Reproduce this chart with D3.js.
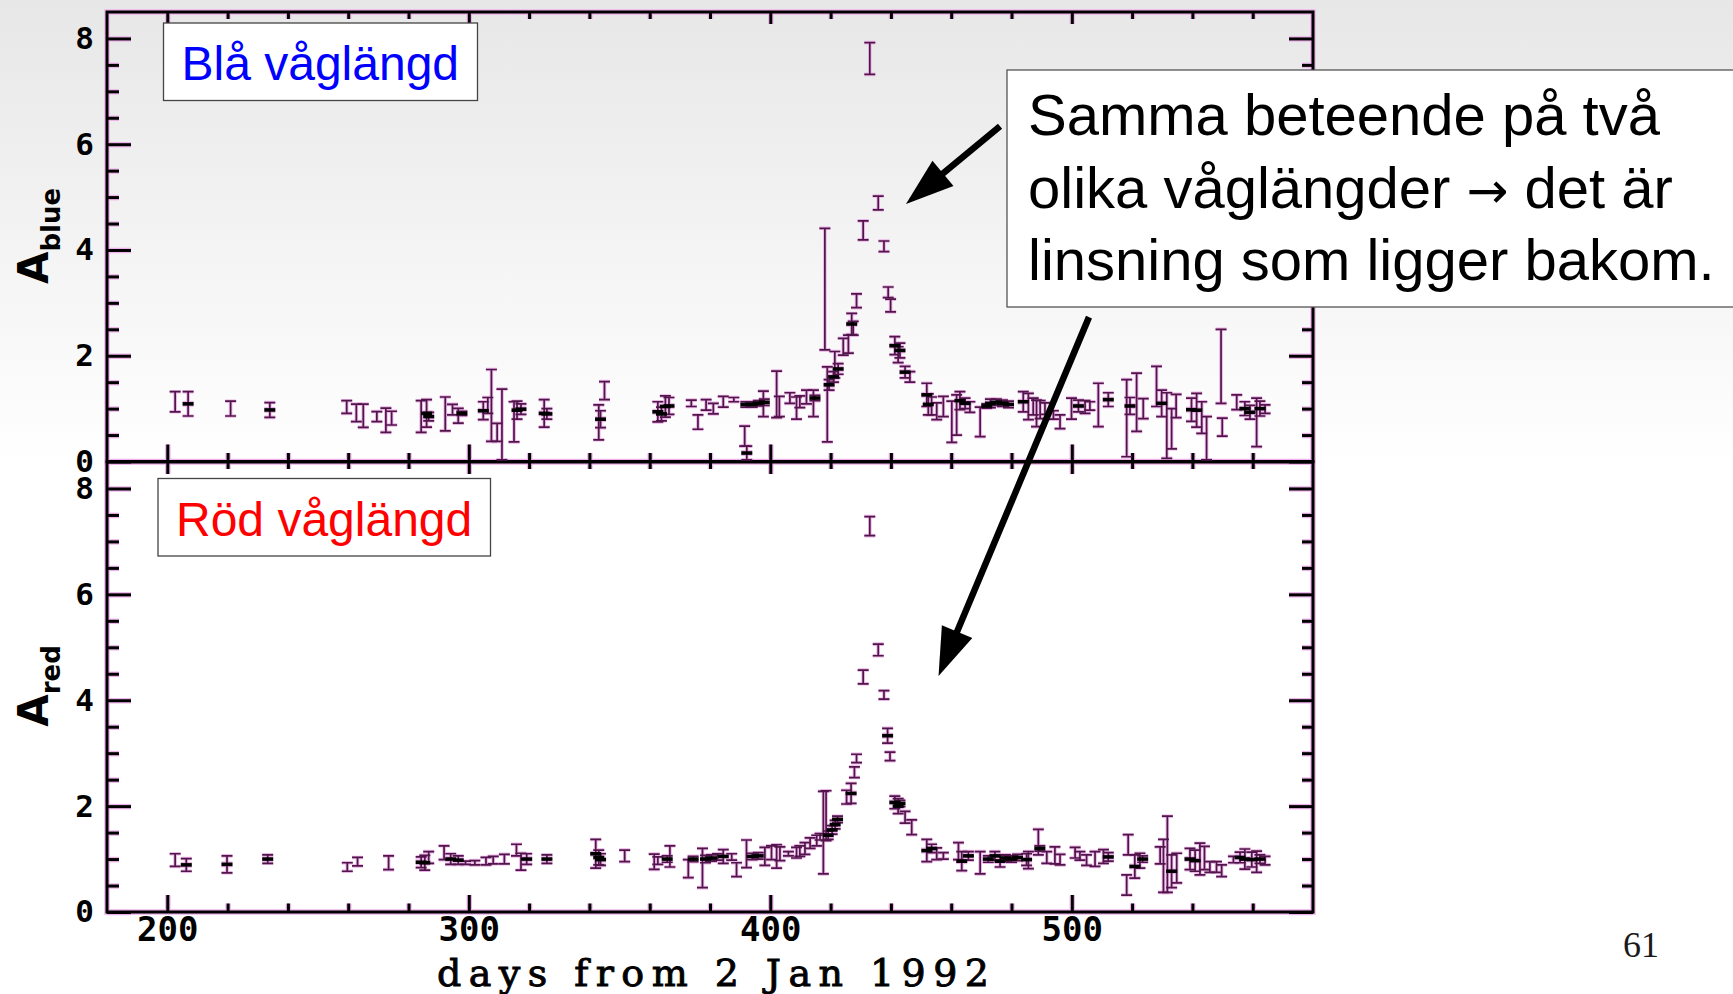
<!DOCTYPE html>
<html>
<head>
<meta charset="utf-8">
<script src="https://cdn.jsdelivr.net/npm/d3@7"></script>
<style>
  html, body { margin: 0; padding: 0; background: #fff; }
  svg { display: block; }
  .halo line, .halo path { stroke: #efb3ec; stroke-width: 5.5; fill: none; }
  .core line, .core path { stroke: #000; stroke-width: 3; fill: none; }
  .bars.halo path { stroke: #ebb4e8; stroke-width: 3.6; }
  .bars.core path { stroke: #511649; stroke-width: 1.7; }
  .marks.halo path { stroke: #ebb4e8; stroke-width: 6; }
  .marks.core path { stroke: #000; stroke-width: 3.6; }
  .ylab text { font: bold 31px "DejaVu Sans Mono"; fill: #000; }
  .xlab text { font: bold 34px "DejaVu Sans Mono"; fill: #000; }
</style>
</head>
<body>
<svg id="chart" width="1733" height="994"></svg>
<script>
// days from 2 Jan 1992, magnification A, error, bold marker flag
const blueData = [
  [202.6, 1.13, 0.19], [206.9, 1.09, 0.23, 1], [221, 1.0, 0.14], [234, 0.975, 0.14, 1],
  [259.5, 1.03, 0.12], [262.7, 0.92, 0.165], [265, 0.865, 0.22], [269.5, 0.85, 0.095],
  [272.5, 0.78, 0.23], [274.4, 0.82, 0.13], [284.2, 0.85, 0.3], [286, 0.91, 0.26, 1],
  [286.7, 0.85, 0.08, 1], [292.2, 0.9, 0.32], [294.6, 0.98, 0.1], [296.5, 0.865, 0.14],
  [297.7, 0.91, 0.04, 1], [304.8, 0.96, 0.17, 1], [306.3, 1.06, 0.15], [307.5, 1.06, 0.68],
  [309.4, 0.55, 0.17], [311, 0.7, 0.67], [315, 0.75, 0.38], [316, 0.97, 0.17, 1],
  [317.3, 0.99, 0.1, 1], [325, 0.91, 0.26, 1], [325.9, 0.9, 0.1, 1], [343.1, 0.74, 0.33],
  [343.7, 0.8, 0.16, 1], [345, 1.34, 0.17], [362.7, 0.94, 0.19, 1], [363.9, 0.9, 0.13, 1],
  [365.2, 1.04, 0.2, 1], [366.4, 1.05, 0.16, 1], [373.8, 1.1, 0.06], [376, 0.745, 0.135],
  [378.7, 1.07, 0.1], [381.1, 1.0, 0.1], [384.4, 1.13, 0.1], [387.9, 1.17, 0.04],
  [391.5, 0.48, 0.19], [392.2, 0.16, 0.13, 1], [391.9, 1.08, 0.05, 1], [394, 1.08, 0.05, 1],
  [396, 1.1, 0.05, 1], [397.7, 1.09, 0.24], [398, 1.12, 0.06, 1], [402.1, 1.27, 0.44],
  [403, 1.04, 0.19], [406.5, 1.2, 0.1], [408.7, 1.01, 0.21], [409.8, 1.13, 0.11],
  [412, 1.22, 0.13], [414.3, 1.1, 0.25], [414.8, 1.2, 0.05, 1], [418.1, 3.26, 1.15],
  [418.9, 1.08, 0.71], [419.5, 1.45, 0.1, 1], [421, 1.6, 0.1, 1], [421.4, 1.83, 0.25],
  [422.5, 1.75, 0.1, 1], [424.2, 2.17, 0.16], [425.9, 2.22, 0.17], [427, 2.6, 0.2, 1],
  [427.5, 2.52, 0.13], [428.6, 3.04, 0.13], [430.8, 4.37, 0.18], [433, 7.62, 0.3],
  [435.8, 4.89, 0.13], [437.7, 4.07, 0.1], [439.1, 3.2, 0.1], [439.9, 2.95, 0.12],
  [441.3, 2.19, 0.17, 1], [442.4, 2.02, 0.15], [443, 2.1, 0.14, 1], [444.7, 1.69, 0.11, 1],
  [446.3, 1.6, 0.1], [451.9, 1.26, 0.22, 1], [452.4, 1.08, 0.2, 1], [453.5, 1.05, 0.17],
  [455.2, 0.95, 0.16], [457.4, 1.04, 0.19], [460.2, 0.75, 0.39], [461.8, 0.88, 0.38],
  [462.9, 1.15, 0.17, 1], [464.6, 1.1, 0.1, 1], [466.2, 1.03, 0.1], [469.6, 0.75, 0.28],
  [471.8, 1.05, 0.04, 1], [473, 1.1, 0.08, 1], [475, 1.12, 0.06, 1], [477, 1.1, 0.06, 1],
  [479, 1.08, 0.06, 1], [483.9, 1.13, 0.19, 1], [485.6, 1.04, 0.25], [487.2, 1.04, 0.16],
  [488.3, 0.91, 0.25], [489.5, 0.98, 0.17], [491.1, 1.0, 0.11], [493.9, 0.88, 0.08],
  [496.1, 0.75, 0.13], [499.9, 1.0, 0.2], [502.2, 1.05, 0.11, 1], [504.4, 1.03, 0.12],
  [506, 1.05, 0.08], [508.8, 1.07, 0.41], [512.1, 1.17, 0.13, 1], [518.2, 0.82, 0.73],
  [519.3, 1.05, 0.16, 1], [521.5, 1.12, 0.55], [523.7, 1.0, 0.19], [528.1, 1.42, 0.38],
  [529.8, 1.1, 0.25, 1], [531.5, 0.68, 0.62], [533.1, 0.62, 0.38], [534.6, 1.05, 0.22],
  [539.7, 0.98, 0.22, 1], [541.4, 0.97, 0.32, 1], [543.1, 0.83, 0.3], [544.7, 0.44, 0.41],
  [549.5, 1.8, 0.7], [549.9, 0.65, 0.17], [554.7, 1.12, 0.14], [557.4, 1.0, 0.13, 1],
  [559.1, 0.93, 0.13, 1], [561.3, 0.74, 0.46], [562.4, 1.0, 0.14, 1], [564.1, 0.99, 0.08]
];

const redData = [
  [202.6, 0.98, 0.12], [206.3, 0.89, 0.12, 1], [219.8, 0.9, 0.16, 1], [233.3, 1.0, 0.08, 1],
  [259.7, 0.85, 0.08], [263.1, 0.95, 0.08], [273.4, 0.93, 0.13], [284.2, 0.94, 0.1, 1],
  [285.4, 0.93, 0.14, 1], [286.7, 1.03, 0.11], [291.8, 1.12, 0.13], [294, 1.0, 0.1, 1],
  [296.5, 0.98, 0.08, 1], [298.9, 0.93, 0.03], [302, 0.93, 0.04], [305.7, 0.96, 0.07],
  [308.1, 0.98, 0.07], [311.8, 1.0, 0.09], [315.8, 1.17, 0.11], [317.3, 0.95, 0.16],
  [319.2, 1.0, 0.1, 1], [325.9, 1.0, 0.08, 1], [342.1, 1.1, 0.27, 1], [343.1, 1.03, 0.14, 1],
  [343.7, 0.99, 0.11, 1], [351.7, 1.06, 0.11], [361.5, 0.95, 0.145], [362.7, 0.97, 0.07],
  [365.8, 1.0, 0.06, 1], [366.7, 1.05, 0.2], [372.8, 0.82, 0.17], [374.4, 1.0, 0.05, 1],
  [377.5, 0.83, 0.37], [378.5, 1.0, 0.07, 1], [380.5, 1.02, 0.06, 1], [382.5, 1.04, 0.06],
  [384.4, 1.05, 0.13, 1], [387.2, 1.04, 0.06], [388.8, 0.8, 0.13], [392.1, 1.1, 0.26],
  [394, 1.05, 0.06, 1], [396, 1.06, 0.06, 1], [398.2, 1.05, 0.17], [400.4, 1.12, 0.13],
  [402.1, 1.05, 0.22], [403.2, 1.1, 0.13], [406, 1.1, 0.04], [408.7, 1.12, 0.1],
  [409.8, 1.15, 0.1], [411.5, 1.2, 0.11], [413.2, 1.3, 0.1], [415.4, 1.35, 0.1],
  [416.5, 1.42, 0.06], [417.6, 1.5, 0.78], [418.5, 1.82, 0.47], [419.2, 1.45, 0.08, 1],
  [420.5, 1.55, 0.08, 1], [421.5, 1.65, 0.08, 1], [422.3, 1.75, 0.06, 1], [425.3, 2.17, 0.13],
  [426.8, 2.24, 0.19, 1], [427.9, 2.64, 0.1], [428.6, 2.9, 0.08], [430.8, 4.44, 0.13],
  [433, 7.29, 0.18], [435.8, 4.95, 0.11], [437.7, 4.1, 0.08], [438.9, 3.33, 0.14, 1],
  [439.7, 2.94, 0.08], [441.3, 2.07, 0.12, 1], [442.4, 2.0, 0.14, 1], [443, 2.05, 0.06, 1],
  [444.7, 1.79, 0.11], [446.9, 1.6, 0.14], [451.9, 1.16, 0.21, 1], [453.5, 1.2, 0.08, 1],
  [455.2, 1.1, 0.11], [457.4, 1.06, 0.06], [462.4, 1.15, 0.16], [463.5, 0.96, 0.18, 1],
  [465.7, 1.06, 0.08, 1], [469.6, 0.93, 0.21], [472.3, 1.0, 0.06, 1], [474.5, 1.06, 0.08, 1],
  [476.2, 0.96, 0.11, 1], [478, 1.02, 0.06, 1], [480, 1.0, 0.06, 1], [482, 1.03, 0.06, 1],
  [485, 0.99, 0.11, 1], [485.6, 0.98, 0.16], [488.9, 1.32, 0.24], [489.4, 1.2, 0.05, 1],
  [491.7, 1.03, 0.11], [494.4, 1.07, 0.16], [496.1, 0.99, 0.1], [501.1, 1.12, 0.1],
  [502.7, 1.06, 0.08], [504.9, 0.98, 0.1], [507.7, 1.0, 0.14], [510.5, 1.05, 0.13],
  [512.1, 1.04, 0.08, 1], [518.2, 0.51, 0.19], [518.7, 1.27, 0.19], [520.9, 0.86, 0.22, 1],
  [522.6, 0.97, 0.14], [523.5, 1.0, 0.06, 1], [529.3, 1.07, 0.16], [530.4, 0.87, 0.5],
  [531.7, 1.09, 0.72], [533.1, 0.77, 0.31, 1], [534.8, 0.83, 0.28], [539.2, 1.0, 0.2, 1],
  [540.9, 0.97, 0.2, 1], [542.5, 1.0, 0.3], [544, 1.02, 0.22], [545.8, 0.85, 0.1],
  [548, 0.85, 0.1], [549.7, 0.78, 0.11], [553.6, 0.99, 0.06], [555.8, 1.03, 0.1, 1],
  [557.4, 1.0, 0.19, 1], [559.7, 0.99, 0.14, 1], [561.3, 0.95, 0.2], [562.4, 1.0, 0.08, 1],
  [564.1, 0.97, 0.08]
];

const xDomain = [180, 580];
const yDomain = [0, 8.5];
const xMajor = [200, 300, 400, 500];
const xMinor = d3.range(220, 580, 20).filter(d => d % 100 !== 0);
const yMajor = [0, 2, 4, 6, 8];
const yMinor = d3.range(0.5, 8.5, 0.5).filter(d => d % 2 !== 0);

// note text; the arrow glyph gets its own font so it is full size
const noteLines = [
  ['Samma beteende på två'],
  ['olika våglängder ', '→', ' det är'],
  ['linsning som ligger bakom.']
];

// arrows in data coords: [panel of start, day, A, panel of tip, day, A]
const arrows = [
  ['top', 476.2, 6.34, 'top', 445, 4.87],
  ['top', 505.7, 2.73, 'bot', 455.8, 4.46]
];

const left = 107, right = 1313;
const svg = d3.select('#chart');

const x = d3.scaleLinear().domain(xDomain).range([left, right]);
const yTop = d3.scaleLinear().domain(yDomain).range([461.5, 12]);
const yBot = d3.scaleLinear().domain(yDomain).range([912, 462]);
const panels = { top: yTop, bot: yBot };

// slide background
const grad = svg.append('defs').append('linearGradient')
  .attr('id', 'bg').attr('x1', 0).attr('y1', 0).attr('x2', 0).attr('y2', 1);
grad.append('stop').attr('offset', 0).attr('stop-color', '#e7e7e7');
grad.append('stop').attr('offset', 0.47).attr('stop-color', '#ffffff');
svg.append('rect').attr('width', 1733).attr('height', 994).attr('fill', 'url(#bg)');

const haloLayer = svg.append('g');
const coreLayer = svg.append('g');

function drawFrame(layer, y, cls, isBottom) {
  const g = layer.append('g').attr('class', cls);
  const [y0, y1] = y.range();

  g.append('path').attr('d', `M${left},${y1}H${right}V${y0}H${left}Z`);

  g.append('g').attr('class', 'ylab').attr('transform', `translate(${left},0)`)
    .call(d3.axisLeft(y).tickValues(yMajor).tickSize(-24).tickSizeOuter(0).tickPadding(13)
      .tickFormat(cls === 'core' ? d3.format('d') : ''));
  g.append('g').attr('transform', `translate(${left},0)`)
    .call(d3.axisLeft(y).tickValues(yMinor).tickSize(-12).tickSizeOuter(0).tickFormat(''));
  g.append('g').attr('transform', `translate(${right},0)`)
    .call(d3.axisRight(y).tickValues(yMajor).tickSize(-24).tickSizeOuter(0).tickFormat(''));
  g.append('g').attr('transform', `translate(${right},0)`)
    .call(d3.axisRight(y).tickValues(yMinor).tickSize(-11).tickSizeOuter(0).tickFormat(''));

  g.append('g').attr('transform', `translate(0,${y1})`)
    .call(d3.axisTop(x).tickValues(xMajor).tickSize(-12).tickSizeOuter(0).tickFormat(''));
  g.append('g').attr('transform', `translate(0,${y1})`)
    .call(d3.axisTop(x).tickValues(xMinor).tickSize(-7).tickSizeOuter(0).tickFormat(''));

  g.append('g').attr('class', 'xlab').attr('transform', `translate(0,${y0})`)
    .call(d3.axisBottom(x).tickValues(xMajor).tickSize(-17).tickSizeOuter(0).tickPadding(5)
      .tickFormat(cls === 'core' && isBottom ? d3.format('d') : ''));
  g.append('g').attr('transform', `translate(0,${y0})`)
    .call(d3.axisBottom(x).tickValues(xMinor).tickSize(-8.5).tickSizeOuter(0).tickFormat(''));

  g.selectAll('.domain').remove();
}

function drawBars(layer, data, y, cls) {
  const cap = 5.5;
  layer.append('g').attr('class', 'bars ' + cls)
    .selectAll('path').data(data).join('path')
    .attr('d', d => {
      const cx = x(d[0]), y1 = y(d[1] + d[2]), y2 = y(d[1] - d[2]);
      return `M${cx - cap},${y1}H${cx + cap}M${cx},${y1}V${y2}M${cx - cap},${y2}H${cx + cap}`;
    });
  layer.append('g').attr('class', 'marks ' + cls)
    .selectAll('path').data(data.filter(d => d[3])).join('path')
    .attr('d', d => `M${x(d[0]) - 5.5},${y(d[1])}H${x(d[0]) + 5.5}`);
}

['halo', 'core'].forEach(cls => {
  const layer = cls === 'halo' ? haloLayer : coreLayer;
  drawFrame(layer, yTop, cls, false);
  drawFrame(layer, yBot, cls, true);
  drawBars(layer, blueData, yTop, cls);
  drawBars(layer, redData, yBot, cls);
});

// axis titles
function yTitle(name, cy) {
  const t = svg.append('text')
    .attr('transform', `translate(48,${cy}) rotate(-90)`)
    .attr('text-anchor', 'middle')
    .attr('font-family', 'DejaVu Sans')
    .attr('font-weight', 'bold')
    .attr('fill', '#000');
  t.append('tspan').attr('font-size', 42).text('A');
  t.append('tspan').attr('font-size', 26).attr('dy', 12).text(name);
}
yTitle('blue', 236);
yTitle('red', 686);

svg.append('text')
  .attr('x', 437).attr('y', 986)
  .attr('textLength', 552).attr('lengthAdjust', 'spacing')
  .attr('font-family', 'DejaVu Serif')
  .attr('font-size', 38)
  .attr('fill', '#000')
  .attr('stroke', '#000').attr('stroke-width', 0.9)
  .text('days from 2 Jan 1992');

// label boxes
function labelBox(x0, y0, w, h, txt, color) {
  svg.append('rect').attr('x', x0).attr('y', y0).attr('width', w).attr('height', h)
    .attr('fill', '#fff').attr('stroke', '#444').attr('stroke-width', 1.3);
  svg.append('text').attr('x', x0 + 18).attr('y', y0 + 57)
    .attr('font-family', 'Liberation Sans, Arial, sans-serif')
    .attr('font-size', 48).attr('fill', color).text(txt);
}
labelBox(163.5, 23, 314, 77.5, 'Blå våglängd', '#0000ff');
labelBox(158, 478.5, 332.5, 77.5, 'Röd våglängd', '#ff0000');

// arrows
arrows.forEach(a => {
  const x1 = x(a[1]), y1 = panels[a[0]](a[2]);
  const x2 = x(a[4]), y2 = panels[a[3]](a[5]);
  const dx = x2 - x1, dy = y2 - y1, L = Math.hypot(dx, dy);
  const ux = dx / L, uy = dy / L;
  const hl = 48, hw = 16.5;
  const bx = x2 - ux * hl, by = y2 - uy * hl;
  svg.append('line')
    .attr('x1', x1).attr('y1', y1).attr('x2', bx + ux * 4).attr('y2', by + uy * 4)
    .attr('stroke', '#000').attr('stroke-width', 6.5);
  svg.append('path')
    .attr('d', `M${x2},${y2}L${bx - uy * hw},${by + ux * hw}L${bx + uy * hw},${by - ux * hw}Z`)
    .attr('fill', '#000');
});

// note box
svg.append('rect').attr('x', 1007).attr('y', 70).attr('width', 740).attr('height', 237)
  .attr('fill', '#fff').attr('stroke', '#555').attr('stroke-width', 1.3);
svg.append('g').selectAll('text').data(noteLines).join('text')
  .attr('x', 1028).attr('y', (d, i) => 135 + i * 72.5)
  .attr('font-family', 'Liberation Sans, Arial, sans-serif')
  .attr('font-size', 58).attr('fill', '#000')
  .selectAll('tspan').data(d => d).join('tspan')
  .attr('font-family', d => d === '→' ? 'DejaVu Sans' : null)
  .attr('font-size', d => d === '→' ? 50 : null)
  .text(d => d);

svg.append('text').attr('x', 1623).attr('y', 957)
  .attr('font-family', 'Liberation Serif, serif').attr('font-size', 36)
  .attr('fill', '#1a1a1a').text('61');
</script>
</body>
</html>
